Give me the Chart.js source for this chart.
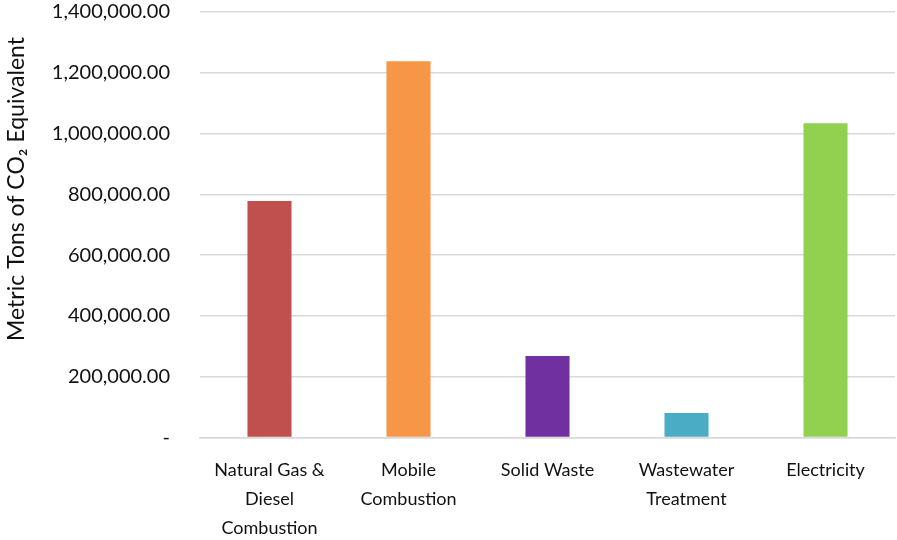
<!DOCTYPE html>
<html>
<head>
<meta charset="utf-8">
<script src="https://cdn.jsdelivr.net/npm/chart.js@4/dist/chart.umd.min.js"></script>
<style>
  html, body { margin: 0; padding: 0; background: #fff; }
  #wrap { width: 897px; height: 540px; position: relative; }
</style>
</head>
<body>
<div id="wrap"><canvas id="chart"></canvas></div>
<script>
const categories = [
  ['Natural Gas &', 'Diesel', 'Combustion'],
  ['Mobile', 'Combustion'],
  'Solid Waste',
  ['Wastewater', 'Treatment'],
  'Electricity'
];
const emissions = [778000, 1238000, 268000, 80600, 1034000];
const barColors = ['#C0504D', '#F79646', '#7030A0', '#4BACC6', '#92D050'];
const yTitle = 'Metric Tons of CO₂ Equivalent';

const FONT = "Lato, 'Open Sans', sans-serif";
const INK = '#111';

function fmtTick(v) {
  if (v === 0) return '-';
  return v.toLocaleString('en-US', { minimumFractionDigits: 2, maximumFractionDigits: 2 });
}

// rotated axis title, placed beside the tick labels
const axisTitle = {
  id: 'axisTitle',
  afterDraw(chart) {
    const ctx = chart.ctx;
    ctx.save();
    ctx.translate(17, 189);
    ctx.rotate(-Math.PI / 2);
    ctx.font = '23px ' + FONT;
    ctx.fillStyle = INK;
    ctx.textAlign = 'center';
    ctx.textBaseline = 'middle';
    ctx.fillText(yTitle, 0, 0);
    ctx.restore();
  }
};

new Chart('chart', {
  type: 'bar',
  data: {
    labels: categories,
    datasets: [{ data: emissions, backgroundColor: barColors, categoryPercentage: 1, barPercentage: 0.317 }]
  },
  options: {
    responsive: true, maintainAspectRatio: false, animation: false,
    layout: { padding: { top: 0, right: 2, left: 0, bottom: 0 } },
    plugins: { legend: { display: false }, tooltip: { enabled: false } },
    scales: {
      x: {
        grid: { display: false, drawTicks: false },
        border: { display: true, color: '#d9d9d9', width: 1.5 },
        ticks: { color: INK, font: { family: FONT, size: 18, lineHeight: 1.62 }, padding: 18, maxRotation: 0, autoSkip: false },
        afterFit: s => { s.height = 102.5; }
      },
      y: {
        min: 0, max: 1400000,
        grid: { color: '#d9d9d9', lineWidth: 1.5, drawTicks: true, tickLength: 30, tickColor: 'rgba(0,0,0,0)' },
        border: { display: false },
        ticks: { stepSize: 200000, color: INK, font: { family: FONT, size: 20 }, padding: 0, callback: fmtTick },
        afterFit: s => { s.width = 200; }
      }
    }
  },
  plugins: [axisTitle]
});
</script>
</body>
</html>
